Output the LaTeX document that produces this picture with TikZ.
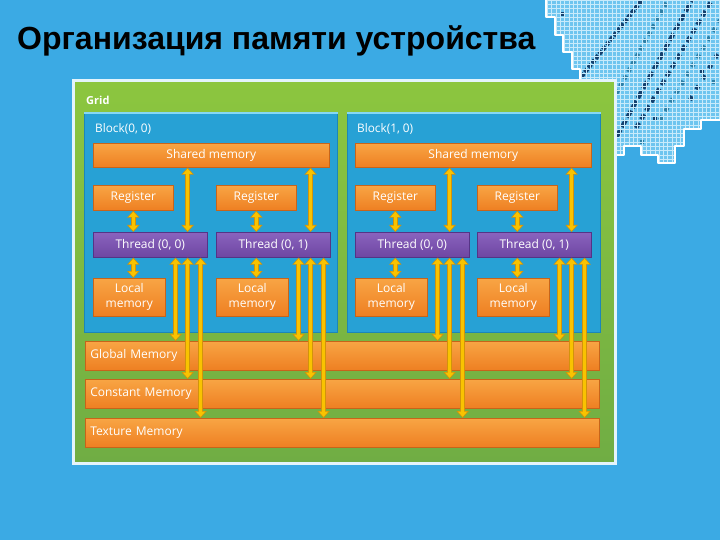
\documentclass[tikz,border=0pt]{standalone}
\usepackage{fontspec}
\setmainfont{Open Sans}
\newfontfamily\titlefont{Liberation Sans}
\usetikzlibrary{arrows.meta,calc}
\definecolor{bgblue}{HTML}{3BAAE4}
\definecolor{declight}{HTML}{6EC5EF}
\definecolor{decline}{HTML}{C8EBFB}
\definecolor{decnavy}{HTML}{14406E}
\definecolor{decteal}{HTML}{2E7FA6}
\definecolor{frame}{HTML}{E4F4FB}
\definecolor{grtop}{HTML}{8CC63F}
\definecolor{grbot}{HTML}{70AD44}
\definecolor{blkfill}{HTML}{27A1D5}
\definecolor{blkedge}{HTML}{1C86B8}
\definecolor{blktop}{HTML}{86D8F4}
\definecolor{ortop}{HTML}{F8A544}
\definecolor{orbot}{HTML}{EE7F22}
\definecolor{oredge}{HTML}{C7641A}
\definecolor{putop}{HTML}{8A63BE}
\definecolor{pubot}{HTML}{6E46A2}
\definecolor{puedge}{HTML}{553486}
\definecolor{arryel}{HTML}{F9C300}
\definecolor{arrdark}{HTML}{D2930A}
\tikzset{
  lbl/.style={font=\fontsize{11.8}{13}\selectfont, text=white, inner sep=0pt},
  obox/.style={rectangle, top color=ortop, bottom color=orbot, draw=oredge, line width=0.6pt,
    text=white, font=\fontsize{12}{15}\selectfont, inner sep=0pt, anchor=north west, align=center},
  pbox/.style={rectangle, top color=putop, bottom color=pubot, draw=puedge, line width=0.6pt,
    text=white, font=\fontsize{12}{13}\selectfont, inner sep=0pt, anchor=north west},
  blkbox/.style={rectangle, fill=blkfill, draw=blkedge, line width=0.8pt, anchor=north west,
    minimum width=253pt, minimum height=219pt, inner sep=0pt},
  membar/.style={obox, align=left, minimum width=514pt, minimum height=29pt, text width=504pt, inner xsep=5pt},
  dar/.style={draw=arrdark, line width=5.5pt, {Triangle[width=12pt,length=7pt]}-{Triangle[width=12pt,length=7pt]},
    postaction={draw=arryel, line width=3.2pt, shorten <=1.2pt, shorten >=1.2pt,
      {Triangle[width=9pt,length=5.2pt]}-{Triangle[width=9pt,length=5.2pt]}}}
}
\begin{document}
\begin{tikzpicture}[x=1pt,y=-1pt]
\useasboundingbox (0,0) rectangle (720,540);
\fill[bgblue] (0,0) rectangle (720,540);
% decoration top right
\def\decpath{(546,0) -- (546,17) -- (555,17) -- (555,35) -- (563,35) -- (563,52) -- (572,52) -- (572,69) -- (580,69) -- (580,86) -- (589,86) -- (589,95) -- (598,95) -- (598,112) -- (606,112) -- (606,129) -- (615,129) -- (615,155) -- (624,155) -- (624,146) -- (641,146) -- (641,155) -- (658,155) -- (658,163) -- (675,163) -- (675,146) -- (684,146) -- (684,129) -- (701,129) -- (701,120) -- (720,120)}
\begin{scope}
\clip \decpath -- (720,0) -- cycle;
\fill[declight] (530,0) rectangle (720,170);
\draw[decnavy, line width=4.3pt, dash pattern=on 4.3pt off 1.5pt] (574,86) -- (642,0);
\draw[decnavy, line width=4.3pt, dash pattern=on 8pt off 3pt] (606,156) -- (692,0);
\draw[decteal, line width=4.3pt, dash pattern=on 4.3pt off 4pt] (596,130) -- (668,0);
\draw[decnavy, line width=4.3pt, dash pattern=on 6pt off 4pt] (636,128) -- (712,0);
\draw[decteal, line width=4.3pt, dash pattern=on 4.3pt off 6pt] (660,120) -- (720,20);
\draw[decnavy, line width=4.3pt, dash pattern=on 4.3pt off 8pt] (690,100) -- (720,50);
\fill[decnavy] (653,116) rectangle +(4.3,4.3);
\fill[decnavy] (700,70) rectangle +(4.3,4.3);
\fill[decteal] (712,80) rectangle +(4.3,4.3);
\fill[decnavy] (560,12) rectangle +(4.3,4.3);
\fill[decteal] (640,140) rectangle +(4.3,4.3);
\foreach \i in {0,...,44} { \draw[decline, line width=0.35pt] (530+\i*4.3,0) -- (530+\i*4.3,170); }
\foreach \j in {0,...,40} { \draw[decline, line width=0.35pt] (530,\j*4.3) -- (720,\j*4.3); }
\end{scope}
\draw[white, line width=2.5pt, line join=round] \decpath;
% title
\node[anchor=base west, inner sep=0pt, font=\titlefont\bfseries\fontsize{32}{38}\selectfont, text=black] (title) at (17,50) {Организация памяти устройства};
% grid
\node[anchor=north west, top color=grtop, bottom color=grbot, draw=frame, line width=3pt,
  minimum width=542pt, minimum height=382pt, inner sep=0pt] (grid) at (71.5,79.5) {};
\node[lbl, anchor=west, font=\bfseries\fontsize{11}{13}\selectfont] (gridlbl) at (86,100) {Grid};
% blocks
\node[blkbox] (b0) at (84,113) {};
\node[blkbox] (b1) at (347,113) {};
\draw[blktop, line width=1.2pt] (b0.north west) -- (b0.north east);
\draw[blktop, line width=1.2pt] (b1.north west) -- (b1.north east);
\node[lbl, anchor=west] (b0lbl) at (95,129) {Block(0, 0)};
\node[lbl, anchor=west] (b1lbl) at (357,129) {Block(1, 0)};
% shared memory
\node[obox, minimum width=236pt, minimum height=24pt] (s0) at (93,143) {Shared memory};
\node[obox, minimum width=236pt, minimum height=24pt] (s1) at (355,143) {Shared memory};
% registers
\node[obox, minimum width=80pt, minimum height=25pt] (r00) at (93,185) {Register};
\node[obox, minimum width=80pt, minimum height=25pt] (r01) at (216,185) {Register};
\node[obox, minimum width=80pt, minimum height=25pt] (r10) at (355,185) {Register};
\node[obox, minimum width=80pt, minimum height=25pt] (r11) at (477,185) {Register};
% threads
\node[pbox, minimum width=114pt, minimum height=25pt] (t00) at (93,232) {Thread (0, 0)};
\node[pbox, minimum width=114pt, minimum height=25pt] (t01) at (216,232) {Thread (0, 1)};
\node[pbox, minimum width=114pt, minimum height=25pt] (t10) at (355,232) {Thread (0, 0)};
\node[pbox, minimum width=114pt, minimum height=25pt] (t11) at (477,232) {Thread (0, 1)};
% local memory
\node[obox, minimum width=72pt, minimum height=38pt] (l00) at (93,278) {Local\\memory};
\node[obox, minimum width=72pt, minimum height=38pt] (l01) at (216,278) {Local\\memory};
\node[obox, minimum width=72pt, minimum height=38pt] (l10) at (355,278) {Local\\memory};
\node[obox, minimum width=72pt, minimum height=38pt] (l11) at (477,278) {Local\\memory};
% memory bars
\node[membar] (gm) at (85,341) {Global Memory};
\node[membar] (cm) at (85,379) {Constant Memory};
\node[membar] (tm) at (85,418) {Texture Memory};
% arrows
\foreach \r/\t/\l/\s in {r00/t00/l00/s0, r01/t01/l01/s0, r10/t10/l10/s1, r11/t11/l11/s1} {
  \draw[dar] (\r.south) -- (\r.south |- \t.north);
  \draw[dar] (\t.south -| \r.south) -- (\l.north -| \r.south);
  \coordinate (\t-a) at ($(\t.south east)+(-32,0)$);
  \coordinate (\t-b) at ($(\t.south east)+(-20,0)$);
  \coordinate (\t-c) at ($(\t.south east)+(-7,0)$);
  \coordinate (\t-n) at ($(\t.north east)+(-20,0)$);
  \draw[dar] (\t-n |- \s.south) -- (\t-n);
  \draw[dar] (\t-a) -- (\t-a |- gm.north);
  \draw[dar] (\t-b) -- (\t-b |- cm.north);
  \draw[dar] (\t-c) -- (\t-c |- tm.north);
}
\end{tikzpicture}
\end{document}
